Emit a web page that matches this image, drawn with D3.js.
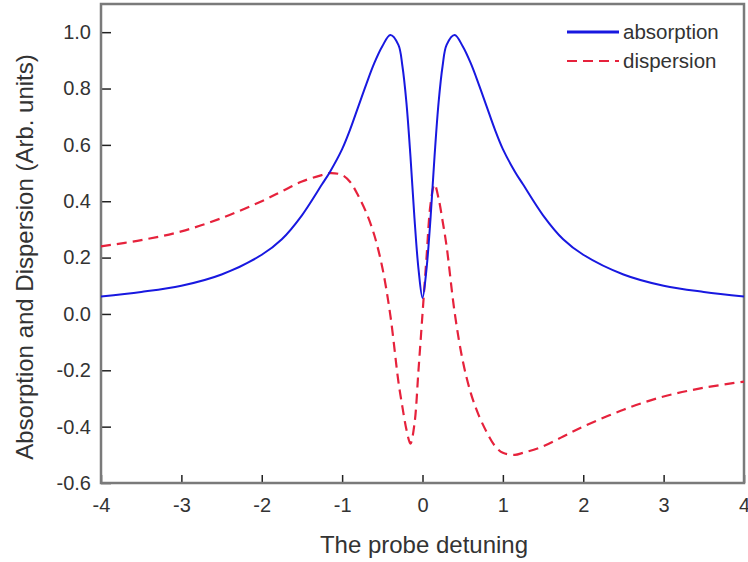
<!DOCTYPE html>
<html>
<head>
<meta charset="utf-8">
<script src="https://cdn.jsdelivr.net/npm/d3@7"></script>
<style>
  html, body { margin: 0; padding: 0; background: #fff; }
  svg { display: block; }
  text { font-family: "Liberation Sans", Arial, sans-serif; fill: #333; }
</style>
</head>
<body>
<svg id="chart" width="748" height="562"></svg>
<script>
// ---- data ----
const detuning = [-4, -3.5, -3, -2.5, -2, -1.75, -1.5, -1.25, -1.15, -1, -0.9, -0.8, -0.7, -0.6, -0.5, -0.4, -0.3, -0.25, -0.2, -0.15, -0.1, -0.05, 0,
                  0.05, 0.1, 0.15, 0.2, 0.25, 0.3, 0.4, 0.5, 0.6, 0.7, 0.8, 0.9, 1, 1.15, 1.25, 1.5, 1.75, 2, 2.5, 3, 3.5, 4];
const absorption = [0.062, 0.078, 0.100, 0.140, 0.210, 0.265, 0.350, 0.460, 0.505, 0.585, 0.655, 0.735, 0.815, 0.890, 0.950, 0.990, 0.955, 0.880, 0.750, 0.560, 0.340, 0.160, 0.057,
                    0.160, 0.340, 0.560, 0.750, 0.880, 0.955, 0.990, 0.950, 0.890, 0.815, 0.735, 0.655, 0.585, 0.505, 0.460, 0.350, 0.265, 0.210, 0.140, 0.100, 0.078, 0.062];
const dispersion = [0.240, 0.262, 0.293, 0.340, 0.400, 0.435, 0.470, 0.493, 0.500, 0.493, 0.468, 0.420, 0.360, 0.280, 0.165, -0.005, -0.240, -0.330, -0.410, -0.460, -0.390, -0.200, 0.000,
                    0.200, 0.390, 0.460, 0.410, 0.330, 0.240, 0.005, -0.165, -0.280, -0.360, -0.420, -0.468, -0.493, -0.500, -0.493, -0.470, -0.435, -0.400, -0.340, -0.293, -0.262, -0.240];
const xTicks = [-4, -3, -2, -1, 0, 1, 2, 3, 4];
const yTicks = [-0.6, -0.4, -0.2, 0.0, 0.2, 0.4, 0.6, 0.8, 1.0];
const seriesNames = ["absorption", "dispersion"];
const xTitle = "The probe detuning";
const yTitle = "Absorption and Dispersion (Arb. units)";

// ---- layout ----
const svg = d3.select("#chart");
const x = d3.scaleLinear().domain([-4, 4]).range([101, 744]);
const y = d3.scaleLinear().domain([-0.6, 1.1]).range([483, 4]);

const blue = "#1818e0";
const red = "#e6223c";

// axes (inward ticks)
const xAxis = d3.axisBottom(x).tickValues(xTicks)
  .tickSizeInner(-8).tickSizeOuter(0).tickPadding(15);
const yAxis = d3.axisLeft(y).tickValues(yTicks)
  .tickSizeInner(-10).tickSizeOuter(0).tickPadding(10);

const gx = svg.append("g").attr("transform", `translate(0,${y(-0.6)})`).call(xAxis);
const gy = svg.append("g").attr("transform", `translate(${x(-4)},0)`).call(yAxis);
[gx, gy].forEach(g => {
  g.select(".domain").remove();
  g.selectAll(".tick line").attr("stroke", "#222").attr("stroke-width", 1.5);
  g.selectAll(".tick text").attr("font-size", 20).attr("fill", "#333")
    .style("font-family", '"Liberation Sans", Arial, sans-serif');
});
gy.selectAll(".tick text").text(d => d3.format(".1f")(d).replace("\u2212", "-"));
gx.selectAll(".tick text").text(d => String(d));

// frame
svg.append("rect")
  .attr("x", x(-4)).attr("y", y(1.1))
  .attr("width", x(4) - x(-4)).attr("height", y(-0.6) - y(1.1))
  .attr("fill", "none").attr("stroke", "#7a7a7a").attr("stroke-width", 2.5);

// lines
const pts = (vals) => detuning.map((d, i) => [d, vals[i]]);
const line = d3.line().x(d => x(d[0])).y(d => y(d[1])).curve(d3.curveCatmullRom.alpha(0.5));

svg.append("path").datum(pts(dispersion))
  .attr("d", line).attr("fill", "none").attr("stroke", red)
  .attr("stroke-width", 2.2).attr("stroke-dasharray", "10,6");
svg.append("path").datum(pts(absorption))
  .attr("d", line).attr("fill", "none").attr("stroke", blue)
  .attr("stroke-width", 2);

// legend
const legend = svg.append("g");
[[blue, null, 32], [red, "10,6", 61]].forEach((s, i) => {
  legend.append("line").attr("x1", 567).attr("x2", 619).attr("y1", s[2]).attr("y2", s[2])
    .attr("stroke", s[0]).attr("stroke-width", i === 0 ? 3 : 2.2)
    .attr("stroke-dasharray", s[1]);
  legend.append("text").attr("x", 623).attr("y", s[2]).attr("dy", "0.35em")
    .attr("font-size", 20.5).text(seriesNames[i]);
});

// titles
svg.append("text").attr("x", 424).attr("y", 553).attr("text-anchor", "middle")
  .attr("font-size", 24).text(xTitle);
svg.append("text").attr("transform", `translate(33,257) rotate(-90)`)
  .attr("text-anchor", "middle").attr("font-size", 24).text(yTitle);
</script>
</body>
</html>
